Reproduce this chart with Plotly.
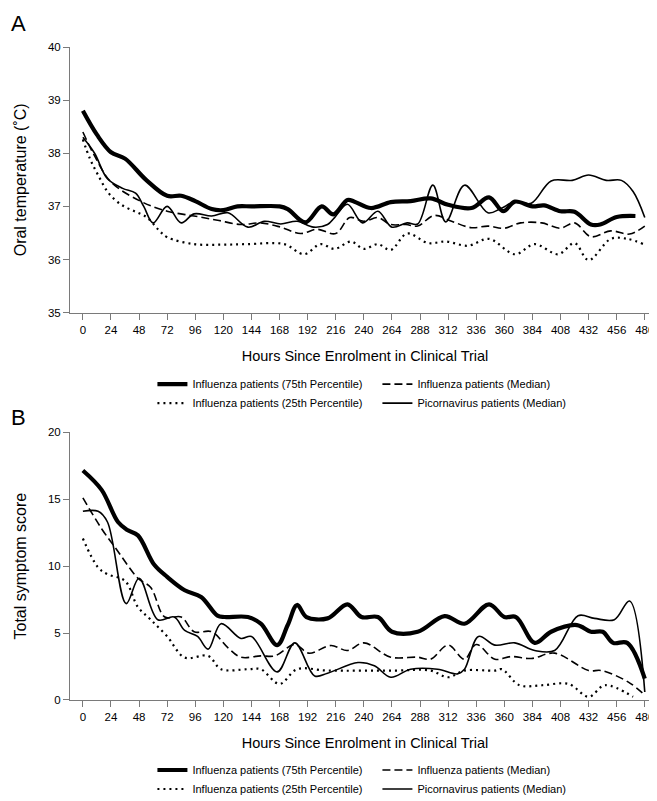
import plotly.graph_objects as go

# ---------------- Panel A: oral temperature ----------------
a_p75_x = [0, 12, 24, 36, 54, 72, 84, 96, 110, 120, 132, 144, 168, 175, 190, 204, 214, 226, 232, 246, 263, 280, 297, 312, 332, 347, 359, 369, 384, 394, 408, 420, 434, 442, 456, 472]
a_p75_y = [38.8, 38.35, 38.02, 37.9, 37.5, 37.2, 37.2, 37.1, 36.95, 36.93, 37.0, 37.0, 37.0, 36.95, 36.7, 37.0, 36.85, 37.12, 37.09, 36.97, 37.08, 37.1, 37.15, 37.03, 36.97, 37.17, 36.91, 37.09, 37.0, 37.02, 36.91, 36.9, 36.66, 36.66, 36.8, 36.82]

a_pic_x = [0, 10, 21, 34, 45, 52, 60, 72, 84, 95, 110, 124, 141, 155, 169, 183, 197, 209, 215, 226, 239, 252, 264, 277, 286, 299, 310, 326, 346, 357, 369, 383, 400, 418, 432, 447, 460, 470, 480]
a_pic_y = [38.3, 38.0, 37.52, 37.34, 37.25, 37.0, 36.69, 37.0, 36.69, 36.86, 36.82, 36.88, 36.61, 36.72, 36.67, 36.72, 36.61, 36.66, 36.79, 37.04, 36.69, 36.91, 36.61, 36.69, 36.67, 37.4, 36.71, 37.4, 36.88, 36.96, 37.09, 37.06, 37.48, 37.49, 37.59, 37.49, 37.49, 37.28, 36.79]

a_med_x = [0, 10, 24, 50, 72, 95, 115, 135, 152, 169, 186, 200, 216, 228, 240, 252, 263, 276, 286, 300, 315, 332, 346, 360, 374, 392, 408, 420, 434, 451, 467, 480]
a_med_y = [38.4, 37.95, 37.46, 37.09, 36.91, 36.82, 36.74, 36.66, 36.69, 36.61, 36.49, 36.57, 36.49, 36.79, 36.72, 36.79, 36.66, 36.66, 36.63, 36.83, 36.72, 36.6, 36.63, 36.59, 36.69, 36.69, 36.59, 36.69, 36.43, 36.54, 36.48, 36.63]

a_p25_x = [0, 6, 13, 22, 33, 45, 55, 65, 72, 95, 118, 140, 172, 189, 203, 215, 229, 240, 252, 263, 277, 295, 310, 329, 347, 369, 386, 406, 420, 432, 451, 465, 479]
a_p25_y = [38.26, 37.9, 37.59, 37.25, 37.03, 36.9, 36.79, 36.55, 36.42, 36.29, 36.28, 36.29, 36.29, 36.1, 36.29, 36.2, 36.34, 36.2, 36.29, 36.18, 36.49, 36.31, 36.34, 36.26, 36.39, 36.1, 36.29, 36.1, 36.31, 35.99, 36.39, 36.39, 36.29]

# ---------------- Panel B: total symptom score ----------------
b_p75_x = [0, 16, 30, 38, 47, 61, 72, 87, 101, 115, 121, 141, 152, 166, 175, 183, 191, 209, 226, 238, 252, 264, 286, 309, 326, 347, 360, 370, 386, 400, 422, 434, 444, 453, 465, 480]
b_p75_y = [17.15, 15.7, 13.3, 12.7, 12.3, 10.1, 9.2, 8.2, 7.7, 6.3, 6.2, 6.2, 5.7, 4.1, 5.6, 7.1, 6.2, 6.1, 7.15, 6.2, 6.2, 5.1, 5.1, 6.27, 5.7, 7.15, 6.2, 6.2, 4.27, 5.1, 5.6, 5.1, 5.1, 4.27, 4.27, 1.6]

b_pic_x = [0, 13, 21, 37, 48, 64, 78, 87, 98, 107, 118, 135, 144, 166, 181, 198, 209, 235, 249, 263, 280, 303, 320, 326, 338, 352, 369, 386, 403, 423, 437, 454, 467, 480]
b_pic_y = [14.1, 14.1, 13.3, 7.2, 9.1, 6.0, 6.2, 5.2, 4.75, 3.8, 5.7, 4.6, 4.75, 2.1, 4.27, 1.8, 2.0, 2.8, 2.56, 1.7, 2.3, 2.3, 1.95, 2.3, 4.75, 4.1, 4.27, 3.7, 3.7, 6.3, 6.1, 6.0, 7.4, 0.6]

b_med_x = [0, 16, 30, 47, 58, 70, 84, 95, 110, 124, 135, 152, 164, 181, 193, 212, 226, 240, 263, 286, 297, 312, 326, 336, 352, 366, 383, 403, 432, 443, 466, 480]
b_med_y = [15.1, 12.8, 11.1, 9.1, 8.4, 6.2, 6.2, 5.1, 5.1, 3.9, 3.2, 3.3, 3.3, 4.15, 3.5, 4.07, 3.7, 4.27, 3.2, 3.2, 3.05, 4.1, 3.05, 4.15, 3.05, 3.25, 3.1, 3.5, 2.2, 2.2, 1.34, 0.37]

b_p25_x = [0, 13, 21, 36, 47, 58, 72, 87, 107, 118, 141, 152, 168, 183, 209, 266, 297, 312, 326, 352, 358, 373, 392, 415, 432, 446, 470]
b_p25_y = [12.07, 9.9, 9.4, 8.9, 6.95, 6.0, 4.75, 3.17, 3.3, 2.3, 2.3, 2.3, 1.2, 2.3, 2.2, 2.2, 2.2, 1.7, 2.2, 2.2, 2.3, 1.1, 1.1, 1.2, 0.24, 1.1, 0.24]

x_ticks = list(range(0, 481, 24))
names = ["Influenza patients (75th Percentile)", "Influenza patients (Median)",
         "Influenza patients (25th Percentile)", "Picornavirus patients (Median)"]

FONT = "Liberation Sans, Arial, Helvetica, sans-serif"
styles = [dict(width=4.2, color="black"),
          dict(width=1.6, color="black", dash="8px,4px"),
          dict(width=2.2, color="black", dash="2px,4px"),
          dict(width=1.6, color="black")]

fig = go.Figure()

def add_panel(series, xa, ya, leg):
    for i, ((xs, ys), nm, st) in enumerate(zip(series, names, styles)):
        fig.add_trace(go.Scatter(x=xs, y=ys, mode="lines", name=nm,
                                 line=dict(shape="spline", smoothing=1.0, **st),
                                 xaxis=xa, yaxis=ya, legend=leg, legendrank=i + 1,
                                 hoverinfo="skip"))

add_panel([(a_p75_x, a_p75_y), (a_med_x, a_med_y), (a_p25_x, a_p25_y), (a_pic_x, a_pic_y)], "x", "y", "legend")
add_panel([(b_p75_x, b_p75_y), (b_med_x, b_med_y), (b_p25_x, b_p25_y), (b_pic_x, b_pic_y)], "x2", "y2", "legend2")

axis_common = dict(showline=True, linecolor="#7a7a7a", linewidth=1, ticks="outside",
                   ticklen=6, tickcolor="#7a7a7a", showgrid=False, zeroline=False,
                   tickfont=dict(family=FONT, size=11.5, color="black"))

xtitle = dict(text="Hours Since Enrolment in Clinical Trial", standoff=16,
              font=dict(family=FONT, size=14.5, color="black"))
xcommon = dict(range=[-11, 493], tickvals=x_ticks, **axis_common)
fig.update_layout(
    xaxis=dict(domain=[0, 1], anchor="y", title=xtitle, **xcommon),
    yaxis=dict(domain=[0.5931, 1], anchor="x", range=[35, 40], tickvals=[35, 36, 37, 38, 39, 40],
               title=dict(text="Oral temperature (˚C)", standoff=17,
                          font=dict(family=FONT, size=16, color="black")), **axis_common),
    xaxis2=dict(domain=[0, 1], anchor="y2", title=xtitle, **xcommon),
    yaxis2=dict(domain=[0, 0.4099], anchor="x2", range=[0, 20], tickvals=[0, 5, 10, 15, 20],
                title=dict(text="Total symptom score", standoff=17,
                           font=dict(family=FONT, size=16, color="black")), **axis_common),
)

leg_common = dict(orientation="h", xanchor="left", yanchor="top", entrywidth=180,
                  entrywidthmode="pixels", bgcolor="rgba(0,0,0,0)", tracegroupgap=0,
                  font=dict(family=FONT, size=11, color="black"), itemwidth=30,
                  traceorder="normal")
fig.update_layout(
    legend=dict(x=0.1397, y=0.506, **leg_common),
    legend2=dict(x=0.1397, y=-0.085, **leg_common),
)

fig.add_annotation(text="A", xref="paper", yref="paper", x=-0.0881, y=1.036,
                   xanchor="center", yanchor="middle", showarrow=False,
                   font=dict(family=FONT, size=22, color="black"))
fig.add_annotation(text="B", xref="paper", yref="paper", x=-0.0881, y=0.4332,
                   xanchor="center", yanchor="middle", showarrow=False,
                   font=dict(family=FONT, size=22, color="black"))

fig.update_layout(width=657, height=801, margin=dict(l=62, r=5, t=39, b=96),
                  paper_bgcolor="white", plot_bgcolor="white", showlegend=True,
                  font=dict(family=FONT, color="black"))

fig.write_html("out.html")
